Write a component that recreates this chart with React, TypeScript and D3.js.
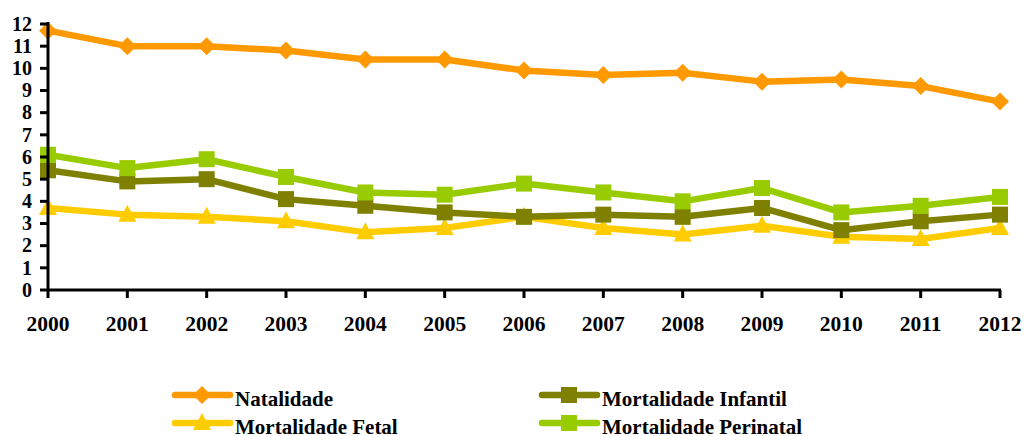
import React from "react";
import * as d3 from "d3";

const years = ["2000","2001","2002","2003","2004","2005","2006","2007","2008","2009","2010","2011","2012"];
const yTicks = [0,1,2,3,4,5,6,7,8,9,10,11,12];
const natalidade = [11.7,11.0,11.0,10.8,10.4,10.4,9.9,9.7,9.8,9.4,9.5,9.2,8.5];
const mortInfantil = [5.4,4.9,5.0,4.1,3.8,3.5,3.3,3.4,3.3,3.7,2.7,3.1,3.4];
const mortFetal = [3.7,3.4,3.3,3.1,2.6,2.8,3.3,2.8,2.5,2.9,2.4,2.3,2.8];
const mortPerinatal = [6.1,5.5,5.9,5.1,4.4,4.3,4.8,4.4,4.0,4.6,3.5,3.8,4.2];

const seriesNames = ["Natalidade","Mortalidade Infantil","Mortalidade Fetal","Mortalidade Perinatal"];

type S = { name: string; values: number[]; color: string; marker: string };
const series: S[] = [
  { name: seriesNames[2], values: mortFetal, color: "#FFCC00", marker: "triangle" },
  { name: seriesNames[1], values: mortInfantil, color: "#808000", marker: "square" },
  { name: seriesNames[3], values: mortPerinatal, color: "#99CC00", marker: "square" },
  { name: seriesNames[0], values: natalidade, color: "#FF9900", marker: "diamond" },
];

const FONT = "Liberation Serif";

function Marker({ type, x, y, color }: { type: string; x: number; y: number; color: string }) {
  if (type === "square") return <rect x={x - 8} y={y - 8} width={16} height={16} fill={color} />;
  if (type === "diamond") return <path d={`M${x},${y - 9}L${x + 9},${y}L${x},${y + 9}L${x - 9},${y}Z`} fill={color} />;
  return <path d={`M${x},${y - 10}L${x + 9},${y + 7}L${x - 9},${y + 7}Z`} fill={color} />;
}

export default function App() {
  const W = 1033, H = 436;
  const x = d3.scalePoint<string>().domain(years).range([48, 1000]);
  const y = d3.scaleLinear().domain([0, 12]).range([290, 24]);
  const line = d3.line<number>().x((_, i) => x(years[i])!).y((d) => y(d));

  const legend = [
    { s: series[3], lx: 173, ly: 395, tx: 235, ty: 406 },
    { s: series[1], lx: 540, ly: 395, tx: 602, ty: 406 },
    { s: series[0], lx: 173, ly: 423, tx: 235, ty: 434 },
    { s: series[2], lx: 540, ly: 423, tx: 602, ty: 434 },
  ];

  return (
    <svg width={W} height={H} style={{ position: "absolute", left: 0, top: 0, background: "#fff" }}>
      {series.map((s) => (
        <g key={s.name}>
          <path d={line(s.values)!} fill="none" stroke={s.color} strokeWidth={6.5} strokeLinejoin="round" />
          {s.values.map((v, i) => (
            <Marker key={i} type={s.marker} x={x(years[i])!} y={y(v)} color={s.color} />
          ))}
        </g>
      ))}
      <line x1={48} x2={48} y1={22} y2={291} stroke="#000" strokeWidth={3} />
      <line x1={47} x2={1001} y1={290} y2={290} stroke="#000" strokeWidth={3} />
      <g fontFamily={FONT} fontWeight="bold">
        {yTicks.map((t) => (
          <g key={t}>
            <line x1={40} x2={48} y1={y(t)} y2={y(t)} stroke="#000" strokeWidth={3} />
            <text x={32} y={y(t)} dy="0.34em" textAnchor="end" fontSize={20}>{t}</text>
          </g>
        ))}
        {years.map((yr) => (
          <g key={yr}>
            <line x1={x(yr)!} x2={x(yr)!} y1={290} y2={298} stroke="#000" strokeWidth={3} />
            <text x={x(yr)!} y={331} textAnchor="middle" fontSize={21.5}>{yr}</text>
          </g>
        ))}
        {legend.map(({ s, lx, ly, tx, ty }) => (
          <g key={s.name}>
            <line x1={lx + 2} x2={lx + 57} y1={ly} y2={ly} stroke={s.color} strokeWidth={6.5} strokeLinecap="round" />
            <Marker type={s.marker} x={lx + 29} y={ly} color={s.color} />
            <text x={tx} y={ty} fontSize={21}>{s.name}</text>
          </g>
        ))}
      </g>
    </svg>
  );
}
